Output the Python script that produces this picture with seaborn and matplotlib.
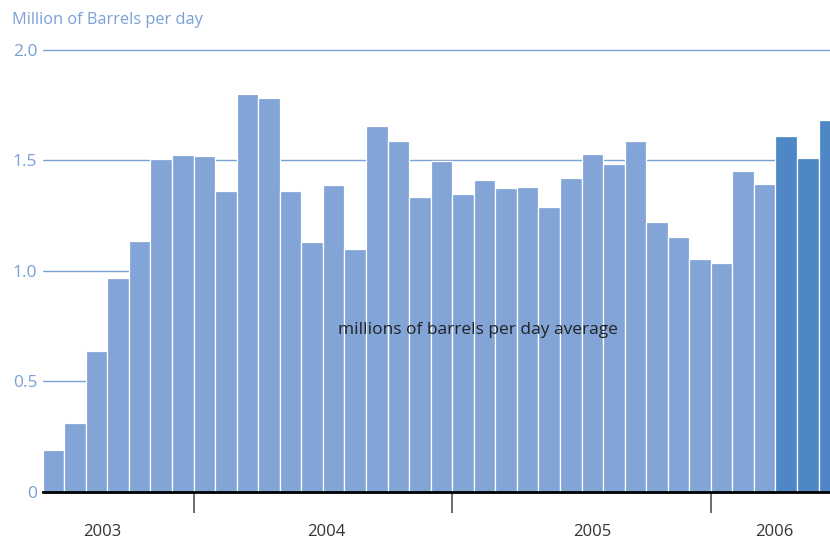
import pandas as pd
import matplotlib.pyplot as plt
import seaborn as sns

# === Data: monthly averages, Jun 2003 - Jun 2006 ===
months = pd.date_range("2003-06-01", "2006-06-01", freq="MS").strftime("%Y-%m").tolist()
barrels = [0.19, 0.31, 0.635, 0.967, 1.135, 1.503, 1.521,
           1.517, 1.362, 1.80, 1.78, 1.36, 1.13, 1.386, 1.097, 1.656, 1.585, 1.332, 1.495,
           1.347, 1.412, 1.374, 1.379, 1.29, 1.42, 1.529, 1.484, 1.588, 1.221, 1.153, 1.053,
           1.035, 1.45, 1.391, 1.611, 1.511, 1.682]
recent = ["2006-04", "2006-05", "2006-06"]
years = ["2003", "2004", "2005", "2006"]
year_breaks = ["2004-01", "2005-01", "2006-01"]
yticks = [0, 0.5, 1.0, 1.5, 2.0]
ytick_labels = ["0", "0.5", "1.0", "1.5", "2.0"]

df = pd.DataFrame({"month": months, "barrels": barrels})
df["group"] = ["recent" if m in recent else "past" for m in df["month"]]

# === Style ===
light_blue = "#82a4d6"
dark_blue = "#4f87c6"
axis_blue = "#7aa0d6"

sns.set_theme(style="white")
plt.rcParams["font.family"] = ["Open Sans", "DejaVu Sans"]

fig = plt.figure(figsize=(8.3, 5.4), dpi=100)
# axes placed in pixel terms: left 42.7, bottom at 491.7
ax = fig.add_axes([42.7 / 830, 48.3 / 540, 1 - 42.7 / 830, 451 / 540])

sns.barplot(data=df, x="month", y="barrels", hue="group",
            palette={"past": light_blue, "recent": dark_blue}, saturation=1,
            width=1.0, edgecolor="white", linewidth=0.9,
            legend=False, ax=ax, zorder=2)

ax.set_xlim(-0.5, 36.03)
ax.set_ylim(0, 2.04)

# horizontal guide lines
ax.set_yticks(yticks)
ax.set_yticklabels(ytick_labels)
ax.yaxis.grid(True, color=axis_blue, linewidth=1.0)
ax.set_axisbelow(True)
ax.tick_params(axis="y", length=0, pad=4, labelcolor=axis_blue, labelsize=12.5)

# year boundaries as major ticks, year names as minor ticks
break_pos = [months.index(m) - 0.5 for m in year_breaks]
ax.set_xticks(break_pos)
ax.set_xticklabels([""] * len(break_pos))
ax.tick_params(axis="x", which="major", bottom=True, length=15, width=1.1,
               color="#444444", direction="out")
ax.set_xticks([2.25, 12.64, 24.98, 33.43], minor=True)
ax.set_xticklabels(years, minor=True)
ax.tick_params(axis="x", which="minor", bottom=True, length=0, pad=23,
               labelsize=12, labelcolor="#333333")

for side in ["top", "right", "left"]:
    ax.spines[side].set_visible(False)
ax.spines["bottom"].set_color("black")
ax.spines["bottom"].set_linewidth(2.0)
ax.spines["bottom"].set_zorder(3)

ax.set_xlabel("")
ax.set_ylabel("")

ax.text(19.7, 0.732, "millions of barrels per day average", ha="center", va="center",
        fontsize=12.5, color="#222222", zorder=4)
fig.text(12 / 830, 1 - 20 / 540, "Million of Barrels per day", ha="left", va="center",
         fontsize=11.8, color=axis_blue)

fig.savefig("out.png", dpi=100)
